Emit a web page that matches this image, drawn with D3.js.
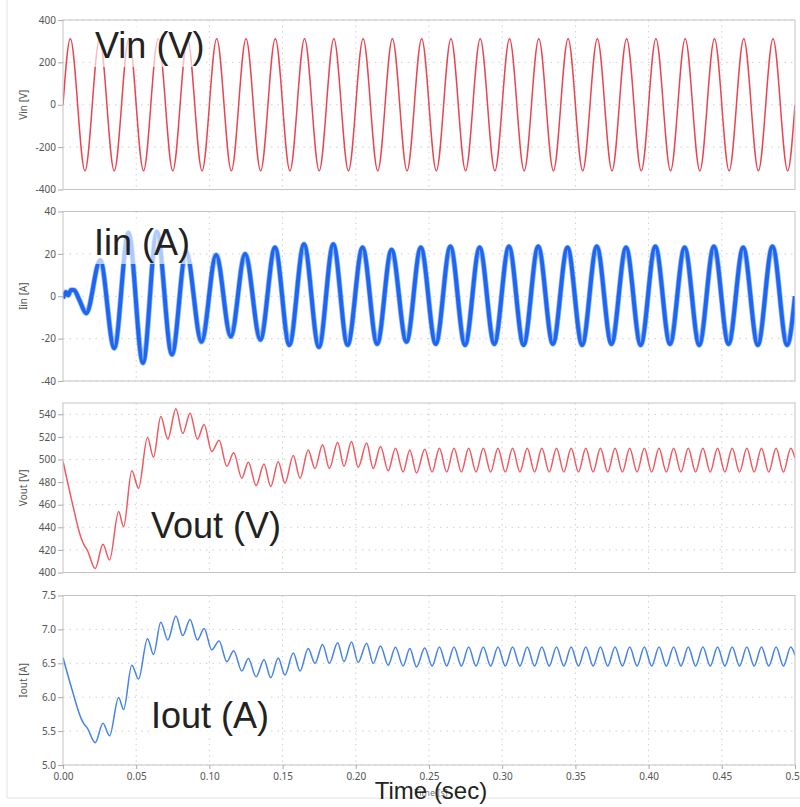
<!DOCTYPE html>
<html>
<head>
<meta charset="utf-8">
<script src="https://cdn.jsdelivr.net/npm/d3@7"></script>
<style>
  body { margin: 0; background: #fff; }
  svg { display: block; }
</style>
</head>
<body>
<svg id="chart" width="800" height="807"></svg>
<script>
    // Values (turning points of each waveform)
    const xTicks = [0, 0.05, 0.10, 0.15, 0.20, 0.25, 0.30, 0.35, 0.40, 0.45, 0.50];
    const vinTicks = [-400, -200, 0, 200, 400];
    const iinTicks = [-40, -20, 0, 20, 40];
    const voutTicks = [400, 420, 440, 460, 480, 500, 520, 540];
    const ioutTicks = [5.0, 5.5, 6.0, 6.5, 7.0, 7.5];

    const vinTime = [0, 0.005, 0.015, 0.025, 0.035, 0.045, 0.055, 0.065, 0.075, 0.085, 0.095,
        0.105, 0.115, 0.125, 0.135, 0.145, 0.155, 0.165, 0.175, 0.185, 0.195,
        0.205, 0.215, 0.225, 0.235, 0.245, 0.255, 0.265, 0.275, 0.285, 0.295,
        0.305, 0.315, 0.325, 0.335, 0.345, 0.355, 0.365, 0.375, 0.385, 0.395,
        0.405, 0.415, 0.425, 0.435, 0.445, 0.455, 0.465, 0.475, 0.485, 0.495, 0.5];
    const vinValue = [0, 311, -311, 311, -311, 311, -311, 311, -311, 311, -311,
        311, -311, 311, -311, 311, -311, 311, -311, 311, -311,
        311, -311, 311, -311, 311, -311, 311, -311, 311, -311,
        311, -311, 311, -311, 311, -311, 311, -311, 311, -311,
        311, -311, 311, -311, 311, -311, 311, -311, 311, -311, 0];

    const iinTime = [0, 0.002, 0.0035, 0.0055, 0.0075, 0.011, 0.0159, 0.0254,
        0.035, 0.0447, 0.0546, 0.0641, 0.0744, 0.0841, 0.0946, 0.1046, 0.1146, 0.1244,
        0.1348, 0.1448, 0.1546, 0.1646, 0.1748, 0.1846, 0.1944, 0.2046, 0.2146, 0.2244,
        0.2346, 0.2444, 0.2546, 0.2646, 0.2746, 0.2846, 0.2946, 0.3046, 0.3146, 0.3246,
        0.3346, 0.3446, 0.3546, 0.3646, 0.3746, 0.3846, 0.3946, 0.4046, 0.4146, 0.4246,
        0.4346, 0.4446, 0.4546, 0.4646, 0.4746, 0.4846, 0.4946, 0.5];
    const iinValue = [-1, 2, 0.5, 3, 3, -1.5, -8, 17,
        -24.5, 30, -31.5, 30.5, -27.5, 21, -21.5, 19.5, -19, 20,
        -20.5, 23, -23, 24.5, -24, 24.5, -23, 23, -22.5, 22,
        -21.5, 23, -22.5, 23.5, -23, 23, -22.5, 23.5, -23, 23.5,
        -22.5, 23, -23, 23.5, -22.5, 23, -23, 23.5, -22.5, 23,
        -23, 23.5, -22.5, 23, -23, 23.5, -23, 0];

    // Vout and Iout share the same turning-point times
    const outTime = [0, 0.0061, 0.0125, 0.0145, 0.0165, 0.022, 0.0273, 0.0318, 0.038, 0.0414,
        0.047, 0.0516, 0.0577, 0.0618, 0.0668, 0.0716, 0.0771, 0.0818, 0.0868, 0.0918,
        0.0964, 0.1016, 0.1066, 0.1119, 0.1166, 0.1221, 0.1266, 0.1319, 0.1373, 0.1419,
        0.147, 0.1516, 0.1573, 0.1619, 0.1675, 0.1721, 0.1773, 0.1819, 0.1876, 0.1919,
        0.1971, 0.2016, 0.2074, 0.2119, 0.2169, 0.2221, 0.2271, 0.2323, 0.2369, 0.2415, 0.2471,
        0.2521, 0.2571, 0.2621, 0.2671, 0.2721, 0.2771, 0.2821, 0.2871, 0.2921, 0.2971,
        0.3021, 0.3071, 0.3121, 0.3171, 0.3221, 0.3271, 0.3321, 0.3371, 0.3421, 0.3471,
        0.3521, 0.3571, 0.3621, 0.3671, 0.3721, 0.3771, 0.3821, 0.3871, 0.3921, 0.3971,
        0.4021, 0.4071, 0.4121, 0.4171, 0.4221, 0.4271, 0.4321, 0.4371, 0.4421, 0.4471,
        0.4521, 0.4571, 0.4621, 0.4671, 0.4721, 0.4771, 0.4821, 0.4871, 0.4921, 0.4971, 0.5];
    const voutValue = [498.5, 463, 430, 424, 420, 403.5, 425, 411, 454, 440.5,
        490, 474.5, 519.5, 502, 538, 518, 545, 523, 541, 518,
        531, 507, 517, 494, 506, 483.5, 497.5, 477, 496, 476,
        498, 479, 503.5, 483.5, 508.5, 492, 513, 492, 515, 494,
        516, 493, 514.5, 492, 511.5, 490, 510, 489, 508.5, 488, 509,
        489, 510, 489, 510, 489, 510, 489, 510, 489, 510,
        489, 510, 489, 510, 489, 510, 489, 510, 489, 510,
        489, 510, 489, 510, 489, 510, 489, 510, 489, 510,
        489, 510, 489, 510, 489, 510, 489, 510, 489, 510,
        489, 510, 489, 510, 489, 510, 489, 510, 489, 510, 501];
    const ioutValue = [6.585, 6.116, 5.68, 5.60, 5.548, 5.33, 5.614, 5.43, 5.997, 5.819,
        6.473, 6.268, 6.863, 6.631, 7.107, 6.843, 7.199, 6.909, 7.147, 6.843,
        7.015, 6.697, 6.83, 6.526, 6.684, 6.387, 6.572, 6.301, 6.552, 6.288,
        6.579, 6.328, 6.651, 6.387, 6.717, 6.499, 6.777, 6.499, 6.803, 6.526,
        6.816, 6.513, 6.797, 6.499, 6.757, 6.473, 6.737, 6.46, 6.717, 6.446, 6.724,
        6.46, 6.74, 6.46, 6.74, 6.46, 6.74, 6.46, 6.74, 6.46, 6.74,
        6.46, 6.74, 6.46, 6.74, 6.46, 6.74, 6.46, 6.74, 6.46, 6.74,
        6.46, 6.74, 6.46, 6.74, 6.46, 6.74, 6.46, 6.74, 6.46, 6.74,
        6.46, 6.74, 6.46, 6.74, 6.46, 6.74, 6.46, 6.74, 6.46, 6.74,
        6.46, 6.74, 6.46, 6.74, 6.46, 6.74, 6.46, 6.74, 6.46, 6.74, 6.62];

    const svg = d3.select("#chart");
    const left = 63, right = 795;
    const panelH = 169.5;
    const x = d3.scaleLinear().domain([0, 0.5]).range([left, right]);

    // faint outer frame of the screenshot
    svg.append("line").attr("x1", 7).attr("x2", 7).attr("y1", 0).attr("y2", 798)
        .attr("stroke", "#e2e2e2");
    svg.append("line").attr("x1", 7).attr("x2", 800).attr("y1", 798).attr("y2", 798)
        .attr("stroke", "#e2e2e2");

    const panels = [
        { top: 20, domain: [-400, 400], ticks: vinTicks, fmt: d => d, time: vinTime, values: vinValue,
          color: "#e9444f", width: 1.5, axis: "Vin [V]", label: "Vin (V)", lx: 95, ly: 58 },
        { top: 211.5, domain: [-40, 40], ticks: iinTicks, fmt: d => d, time: iinTime, values: iinValue,
          color: "#1c66f2", width: 4, axis: "Iin [A]", label: "Iin (A)", lx: 94, ly: 255 },
        { top: 403, domain: [400, 550], ticks: voutTicks, fmt: d => d, time: outTime, values: voutValue,
          color: "#ee5a60", width: 1.5, axis: "Vout [V]", label: "Vout (V)", lx: 151, ly: 538 },
        { top: 595.5, domain: [5, 7.5], ticks: ioutTicks, fmt: d3.format(".1f"), time: outTime, values: ioutValue,
          color: "#4683e6", width: 1.5, axis: "Iout [A]", label: "Iout (A)", lx: 151, ly: 728 }
    ];

    panels.forEach((p, i) => drawPanel(p, i, i === panels.length - 1));

    function drawPanel(p, i, showX) {
        const bottom = p.top + panelH;
        const y = d3.scaleLinear().domain(p.domain).range([bottom, p.top]);
        const g = svg.append("g");

        // dotted grid
        g.append("g").selectAll("line").data(p.ticks).join("line")
            .attr("x1", left).attr("x2", right)
            .attr("y1", d => y(d)).attr("y2", d => y(d))
            .attr("stroke", "#cfcfcf").attr("stroke-dasharray", "1.5,5");
        g.append("g").selectAll("line").data(xTicks.slice(1, -1)).join("line")
            .attr("x1", d => x(d)).attr("x2", d => x(d))
            .attr("y1", p.top).attr("y2", bottom)
            .attr("stroke", "#cfcfcf").attr("stroke-dasharray", "1.5,4");

        // trace
        svg.append("clipPath").attr("id", "clip" + i)
            .append("rect").attr("x", left).attr("y", p.top)
            .attr("width", right - left).attr("height", panelH);
        const line = d3.line()
            .x(d => x(d[0]))
            .y(d => y(d[1]))
            .curve(d3.curveMonotoneX);
        const pts = d3.zip(p.time, p.values);
        if (p.width > 3) {
            // switching ripple makes the input current a fuzzy band
            g.append("path").datum(pts).attr("d", line)
                .attr("clip-path", `url(#clip${i})`)
                .attr("fill", "none").attr("stroke", p.color)
                .attr("stroke-opacity", 0.45).attr("stroke-width", p.width + 1.5);
        }
        g.append("path").datum(pts).attr("d", line)
            .attr("clip-path", `url(#clip${i})`)
            .attr("fill", "none").attr("stroke", p.color)
            .attr("stroke-width", p.width).attr("stroke-linejoin", "round");

        // frame
        g.append("rect").attr("x", left).attr("y", p.top)
            .attr("width", right - left).attr("height", panelH)
            .attr("fill", "none").attr("stroke", "#c4c4c4");

        // y axis
        const ya = g.append("g").attr("transform", `translate(${left},0)`)
            .call(d3.axisLeft(y).tickValues(p.ticks).tickFormat(p.fmt).tickSize(5).tickPadding(2));
        ya.select(".domain").remove();
        ya.selectAll("line").attr("stroke", "#aaa");
        ya.selectAll("text").attr("fill", "#555")
            .style("font-family", "'Noto Sans', sans-serif").style("font-size", "10px");

        g.append("text")
            .attr("transform", `translate(27,${(p.top + bottom) / 2}) rotate(-90)`)
            .attr("text-anchor", "middle")
            .attr("fill", "#555")
            .style("font-family", "'Noto Sans', sans-serif").style("font-size", "10px")
            .text(p.axis);

        if (showX) {
            const xa = g.append("g").attr("transform", `translate(0,${bottom})`)
                .call(d3.axisBottom(x).tickValues(xTicks).tickFormat(d3.format(".2f")).tickSize(4).tickPadding(4));
            xa.select(".domain").remove();
            xa.selectAll("line").attr("stroke", "#aaa");
            xa.selectAll("text").attr("fill", "#555")
                .style("font-family", "'Noto Sans', sans-serif").style("font-size", "10px");
        }

        // big overlay label with a washed-out box behind it
        const box = g.append("rect");
        const lab = g.append("text")
            .attr("x", p.lx).attr("y", p.ly)
            .attr("fill", "#222")
            .style("font-family", "'Liberation Sans', Arial, sans-serif")
            .style("font-size", "36px")
            .text(p.label);
        const bb = lab.node().getBBox();
        box.attr("x", bb.x - 2).attr("y", bb.y - 2)
            .attr("width", bb.width + 4).attr("height", bb.height + 3)
            .attr("fill", "#fff").attr("fill-opacity", 0.65);
    }

    // small native axis title, then the big overlay one on top
    svg.append("text").attr("x", 431).attr("y", 796).attr("text-anchor", "middle")
        .attr("fill", "#777").style("font-family", "'Noto Sans', sans-serif").style("font-size", "9px")
        .text("Time [s]");
    svg.append("text").attr("x", 431).attr("y", 799).attr("text-anchor", "middle")
        .attr("fill", "#222").style("font-family", "'Liberation Sans', Arial, sans-serif").style("font-size", "24px")
        .text("Time (sec)");
</script>
</body>
</html>
